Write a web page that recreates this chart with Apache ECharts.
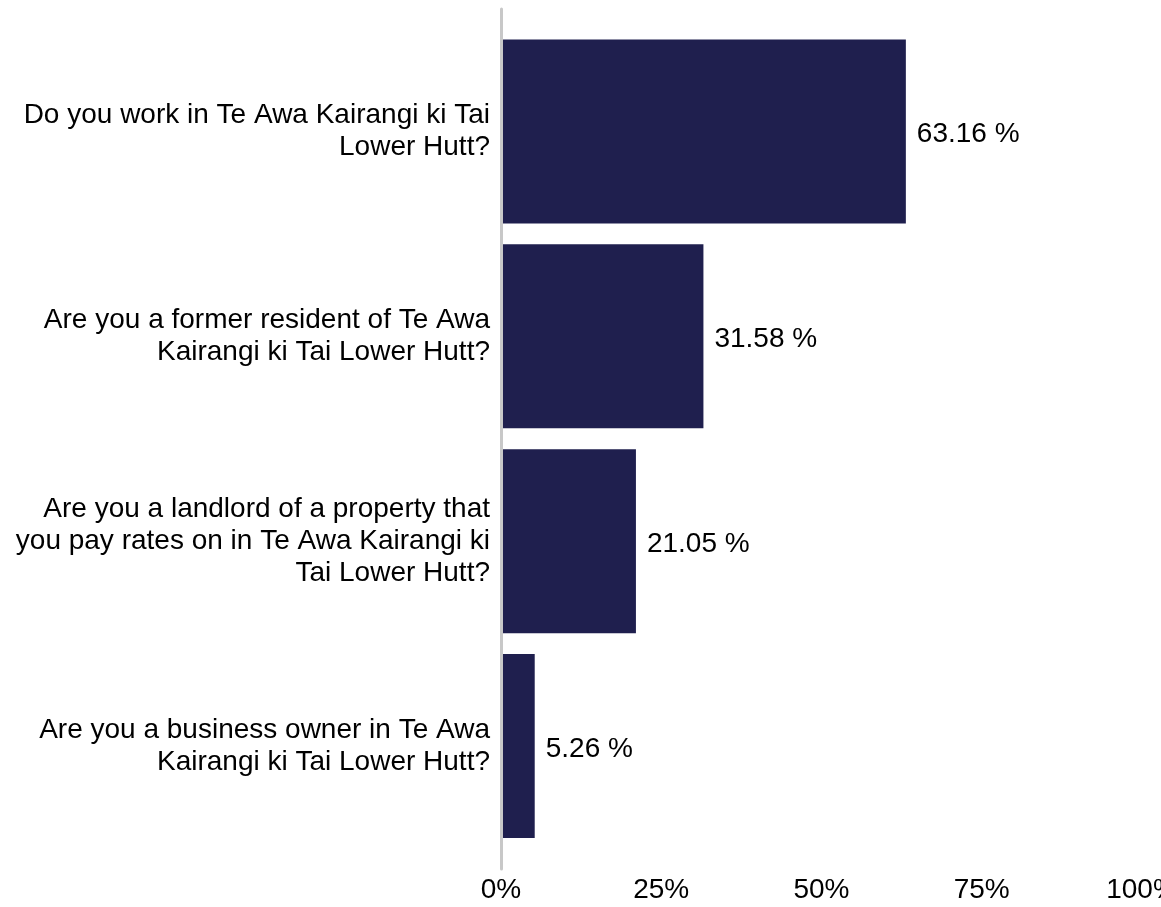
<!DOCTYPE html>
<html>
<head>
<meta charset="utf-8">
<script src="https://cdn.jsdelivr.net/npm/echarts@6/dist/echarts.min.js"></script>
<style>
html,body{margin:0;padding:0;background:#fff;}
#chart{width:1161px;height:907px;}
</style>
</head>
<body>
<div id="chart"></div>
<script>
var categories = [
  "Do you work in Te Awa Kairangi ki Tai\nLower Hutt?",
  "Are you a former resident of Te Awa\nKairangi ki Tai Lower Hutt?",
  "Are you a landlord of a property that\nyou pay rates on in Te Awa Kairangi ki\nTai Lower Hutt?",
  "Are you a business owner in Te Awa\nKairangi ki Tai Lower Hutt?"
];
var values = [63.16, 31.58, 21.05, 5.26];
var xTicks = [0, 25, 50, 75, 100];

var FONT = '"Liberation Sans", Arial, sans-serif';
var chart = echarts.init(document.getElementById('chart'), null, {renderer: 'canvas'});
chart.setOption({
  animation: false,
  backgroundColor: '#fff',
  grid: [
    {left: 501, right: 19, top: 29, bottom: 58.5, containLabel: false, outerBoundsMode: 'none'},
    {left: 501, right: 19, top: 9, bottom: 38, containLabel: false, outerBoundsMode: 'none', z: 10}
  ],
  xAxis: [
    {
      type: 'value', gridIndex: 0, min: xTicks[0], max: xTicks[xTicks.length - 1], interval: 25,
      axisLine: {show: false}, axisTick: {show: false}, splitLine: {show: false},
      axisLabel: {formatter: '{value}%', fontSize: 28, color: '#000', fontFamily: FONT, margin: 28}
    },
    {type: 'value', gridIndex: 1, show: false, min: 0, max: 100}
  ],
  yAxis: [
    {
      type: 'category', gridIndex: 0, data: categories, inverse: true,
      axisLine: {show: false}, axisTick: {show: false},
      axisLabel: {
        fontSize: 28, color: '#000', fontFamily: FONT, margin: 11, lineHeight: 32, align: 'right',
        padding: [6, 0, 0, 0], backgroundColor: 'rgba(255,255,255,0)'
      }
    },
    {
      type: 'category', gridIndex: 1, data: [''], z: 10,
      axisLine: {show: true, lineStyle: {color: '#c8c8c8', width: 3}},
      axisTick: {show: false}, axisLabel: {show: false}
    }
  ],
  series: [{
    type: 'bar', xAxisIndex: 0, yAxisIndex: 0, data: values,
    barCategoryGap: '10.2%', z: 2,
    itemStyle: {color: '#1f1f4e'},
    label: {
      show: true, position: 'right', distance: 11, offset: [0, 3],
      formatter: function (p) { return p.value.toFixed(2) + ' %'; },
      fontSize: 28, color: '#000', fontFamily: FONT
    }
  }]
});
</script>
</body>
</html>
